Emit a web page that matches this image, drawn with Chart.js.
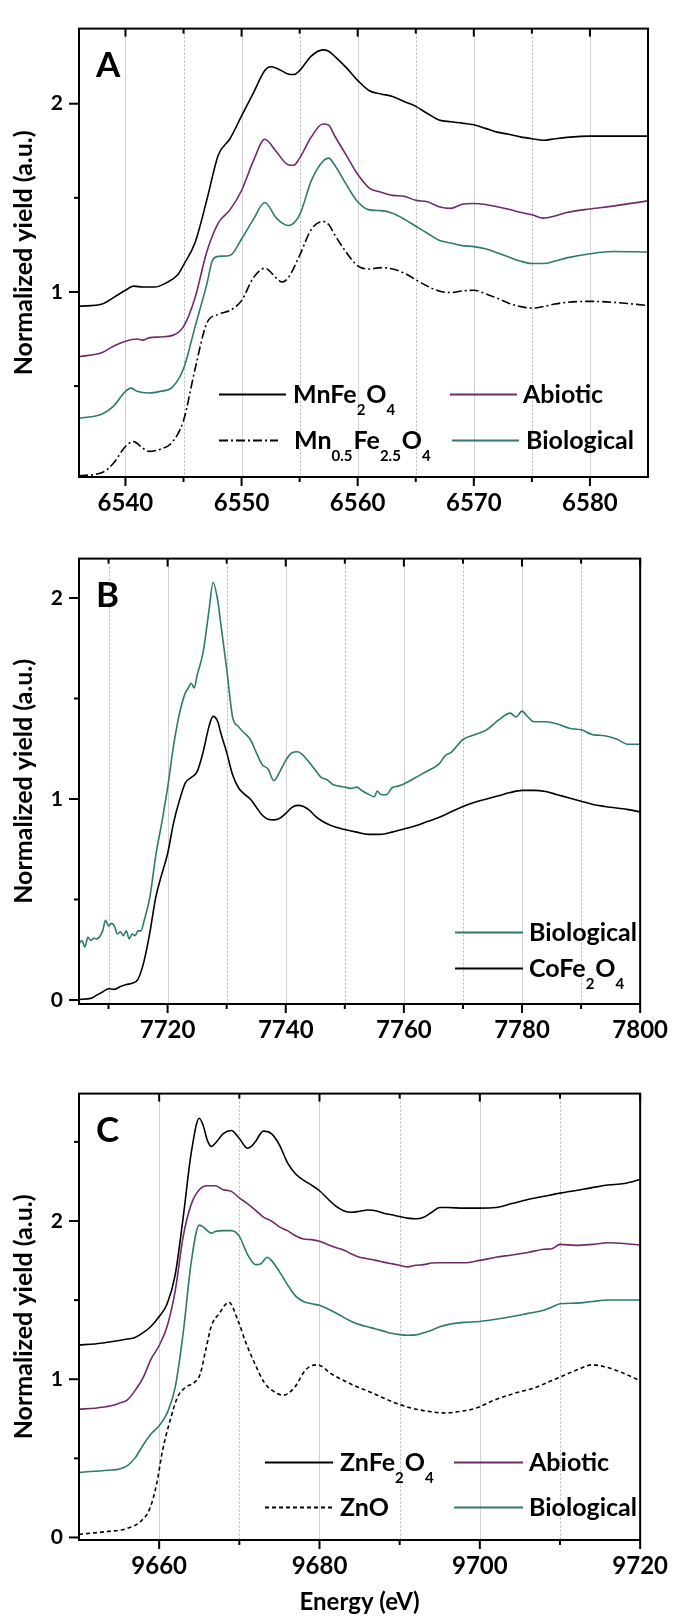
<!DOCTYPE html>
<html><head><meta charset="utf-8">
<script src="https://cdn.jsdelivr.net/npm/chart.js@4.4.0/dist/chart.umd.min.js"></script>
<style>
html,body{margin:0;padding:0;background:#fff;}
#wrap{position:relative;width:680px;height:1620px;overflow:hidden;}
canvas{position:absolute;left:0;}
</style></head><body>
<div id="wrap">
<canvas id="cA" width="680" height="530" style="top:0px"></canvas>
<canvas id="cB" width="680" height="535" style="top:530px"></canvas>
<canvas id="cC" width="680" height="555" style="top:1065px"></canvas>
</div>
<script>
// ---------------- Panel A data (Mn K-edge) ----------------
const mnFe2O4_E = [6536,6538,6539,6540,6540.7,6541.5,6542.5,6543.5,6544.5,6545,6546,6547,6548,6549,6550,6551,6552,6552.5,6553,6554,6554.5,6555,6556,6557,6557.5,6558,6559,6560,6561,6562,6563,6564,6565,6566,6567,6568,6569,6570,6571,6572,6573,6574,6575,6576,6577,6578,6580,6585];
const mnFe2O4_Y = [0.924,0.936,0.971,1.009,1.031,1.026,1.026,1.048,1.091,1.143,1.263,1.487,1.728,1.814,1.935,2.055,2.176,2.196,2.189,2.158,2.155,2.176,2.253,2.286,2.279,2.253,2.193,2.124,2.069,2.052,2.038,2.012,1.986,1.948,1.914,1.904,1.897,1.888,1.869,1.849,1.838,1.824,1.814,1.806,1.814,1.821,1.828,1.828];
const abioticA_E = [6536,6538,6539,6540,6541,6541.5,6542,6543,6544,6545,6546,6547,6548,6549,6550,6551,6552,6553,6554,6554.5,6555,6556,6557,6557.5,6558,6559,6560,6561,6562,6563,6564,6565,6566,6567,6568,6569,6570,6571,6572,6573,6574,6575,6576,6577,6578,6580,6582,6585];
const abioticA_Y = [0.656,0.678,0.713,0.738,0.750,0.744,0.756,0.761,0.768,0.816,0.971,1.212,1.367,1.436,1.539,1.694,1.811,1.745,1.676,1.673,1.711,1.823,1.892,1.886,1.831,1.728,1.625,1.552,1.530,1.513,1.508,1.487,1.479,1.453,1.444,1.466,1.470,1.465,1.453,1.439,1.423,1.410,1.392,1.404,1.422,1.441,1.456,1.484];
const bioA_E = [6536,6538,6539,6540,6540.5,6541,6542,6543,6544,6545,6546,6547,6547.5,6548,6549,6550,6551,6552,6553,6554,6555,6556,6557,6557.5,6558,6559,6560,6561,6562,6563,6564,6565,6566,6567,6568,6569,6570,6571,6572,6573,6574,6575,6576,6577,6578,6580,6582,6585];
const bioA_Y = [0.329,0.352,0.395,0.472,0.489,0.472,0.463,0.472,0.492,0.592,0.816,1.040,1.169,1.189,1.194,1.281,1.384,1.475,1.392,1.353,1.410,1.590,1.694,1.711,1.676,1.573,1.479,1.436,1.432,1.418,1.387,1.349,1.312,1.275,1.260,1.246,1.241,1.229,1.208,1.186,1.164,1.151,1.151,1.164,1.181,1.203,1.215,1.212];
const mn05_E = [6536,6538,6539,6540,6540.7,6541.5,6542,6543,6544,6545,6546,6547,6548,6549,6550,6551,6552,6553,6553.5,6554,6555,6556,6557,6557.5,6558,6559,6560,6561,6562,6563,6564,6565,6566,6567,6568,6569,6570,6571,6572,6573,6574,6575,6576,6577,6578,6580,6582,6585];
const mn05_Y = [0.024,0.041,0.093,0.179,0.205,0.170,0.153,0.165,0.200,0.317,0.592,0.833,0.881,0.902,0.954,1.074,1.126,1.074,1.053,1.074,1.194,1.332,1.375,1.358,1.306,1.212,1.139,1.122,1.129,1.122,1.100,1.065,1.031,1.005,0.997,1.005,1.009,0.991,0.967,0.940,0.923,0.914,0.923,0.936,0.945,0.950,0.945,0.928];
const ticksA_x = [6540,6550,6560,6570,6580];
const minorA_x = [6545,6555,6565,6575];
const ticksA_y = [1,2];
const minorA_y = [0.5,1.5];

// ---------------- Panel B data (Co K-edge) ----------------
const coFe2O4_E = [7705,7707,7708,7709,7710,7711,7712,7713,7714,7715,7716,7717,7718,7719,7720,7721,7722,7723,7724,7725,7726,7727,7727.7,7728.5,7729,7730,7731,7732,7733,7734,7735,7736,7737,7738,7739,7740,7741,7742,7743,7744,7745,7746,7747,7748,7749,7750,7752,7754,7756,7758,7760,7762,7764,7766,7768,7770,7772,7774,7776,7778,7780,7782,7784,7786,7788,7790,7792,7794,7796,7798,7800];
const coFe2O4_Y = [0.003,0.008,0.024,0.040,0.056,0.053,0.067,0.077,0.083,0.104,0.192,0.336,0.512,0.624,0.728,0.880,0.992,1.080,1.107,1.136,1.232,1.360,1.411,1.384,1.328,1.232,1.120,1.056,1.024,1.000,0.960,0.920,0.899,0.896,0.904,0.928,0.957,0.968,0.963,0.944,0.915,0.893,0.877,0.864,0.856,0.848,0.835,0.824,0.824,0.835,0.851,0.867,0.888,0.909,0.936,0.963,0.984,1.000,1.016,1.032,1.043,1.043,1.037,1.021,1.005,0.989,0.973,0.963,0.955,0.947,0.936];
const bioB_E = [7705,7705.5,7706,7706.5,7707,7707.5,7708,7709,7709.5,7710,7710.5,7711,7711.5,7712,7712.5,7713,7713.5,7714,7714.5,7715,7715.5,7716,7717,7718,7719,7720,7721,7722,7723,7723.5,7724,7724.5,7725,7726,7727,7727.7,7728.5,7729,7730,7731,7732,7733,7734,7735,7736,7737,7738,7739,7740,7741,7742,7743,7744,7745,7746,7747,7748,7749,7750,7751,7752,7753,7754,7755,7755.5,7756,7757,7758,7759,7760,7762,7764,7766,7767,7768,7770,7772,7774,7776,7778,7779,7780,7781,7782,7784,7786,7788,7790,7792,7794,7796,7798,7800];
const bioB_Y = [0.28,0.296,0.264,0.312,0.296,0.307,0.304,0.344,0.397,0.368,0.381,0.368,0.328,0.339,0.32,0.344,0.304,0.328,0.32,0.344,0.344,0.392,0.512,0.72,0.88,1.056,1.264,1.424,1.528,1.552,1.576,1.552,1.616,1.728,1.936,2.077,1.984,1.872,1.648,1.408,1.36,1.328,1.296,1.232,1.171,1.149,1.091,1.136,1.192,1.229,1.235,1.216,1.181,1.144,1.107,1.096,1.072,1.064,1.059,1.053,1.059,1.04,1.024,1.011,1.04,1.024,1.021,1.056,1.064,1.075,1.107,1.139,1.176,1.216,1.232,1.296,1.32,1.344,1.392,1.427,1.408,1.437,1.408,1.384,1.384,1.373,1.352,1.344,1.32,1.315,1.299,1.272,1.272];
const ticksB_x = [7720,7740,7760,7780,7800];
const minorB_x = [7710,7730,7750,7770,7790];
const ticksB_y = [0,1,2];
const minorB_y = [0.5,1.5];

// ---------------- Panel C data (Zn K-edge) ----------------
const znFe2O4_E = [9650,9652,9654,9656,9657,9658,9659,9660,9661,9662,9663,9664,9665,9665.5,9666,9666.5,9667,9668,9669,9670,9671,9671.5,9672,9673,9674,9675,9676,9677,9678,9679,9680,9681,9682,9683,9684,9685,9686,9687,9688,9689,9690,9691,9692,9693,9694,9695,9696,9698,9700,9702,9704,9706,9708,9710,9712,9714,9716,9718,9720];
const znFe2O4_Y = [1.217,1.223,1.237,1.254,1.264,1.294,1.335,1.396,1.477,1.659,2.024,2.430,2.649,2.602,2.511,2.471,2.491,2.552,2.572,2.521,2.460,2.471,2.501,2.568,2.552,2.481,2.369,2.298,2.258,2.227,2.191,2.142,2.095,2.065,2.055,2.061,2.069,2.065,2.049,2.039,2.028,2.018,2.014,2.024,2.055,2.085,2.085,2.081,2.081,2.085,2.110,2.136,2.156,2.176,2.193,2.211,2.227,2.237,2.262];
const abioticC_E = [9650,9652,9654,9655,9656,9657,9658,9659,9660,9661,9662,9663,9664,9665,9666,9667,9668,9669,9670,9671,9672,9673,9674,9675,9676,9677,9678,9679,9680,9681,9682,9683,9684,9685,9686,9687,9688,9689,9690,9691,9692,9693,9694,9695,9696,9698,9700,9702,9704,9706,9708,9709,9710,9712,9714,9716,9718,9720];
const abioticC_Y = [0.811,0.817,0.832,0.848,0.868,0.929,1.010,1.128,1.213,1.335,1.558,1.903,2.105,2.197,2.223,2.223,2.197,2.187,2.146,2.110,2.069,2.024,2.000,1.963,1.939,1.907,1.886,1.882,1.872,1.852,1.832,1.817,1.791,1.771,1.761,1.751,1.740,1.730,1.720,1.710,1.720,1.724,1.734,1.736,1.736,1.736,1.751,1.771,1.785,1.801,1.821,1.825,1.852,1.846,1.852,1.862,1.858,1.848];
const bioC_E = [9650,9652,9654,9655,9656,9657,9658,9659,9660,9661,9662,9663,9664,9665,9665.5,9666,9666.5,9667,9668,9669,9670,9671,9672,9672.7,9673.5,9674,9675,9676,9677,9678,9679,9680,9681,9682,9683,9684,9685,9686,9687,9688,9689,9690,9691,9692,9693,9694,9695,9696,9698,9700,9702,9704,9706,9708,9709,9710,9712,9714,9716,9718,9720];
const bioC_Y = [0.412,0.418,0.426,0.432,0.452,0.503,0.584,0.655,0.706,0.787,0.949,1.294,1.740,1.974,1.963,1.939,1.923,1.933,1.939,1.939,1.903,1.791,1.724,1.730,1.771,1.751,1.680,1.598,1.527,1.491,1.477,1.467,1.446,1.420,1.391,1.365,1.345,1.331,1.318,1.304,1.290,1.282,1.278,1.280,1.294,1.310,1.331,1.345,1.359,1.365,1.379,1.396,1.416,1.436,1.456,1.477,1.481,1.491,1.501,1.501,1.501];
const znO_E = [9650,9653.4,9656,9657.6,9658.8,9659.7,9660.4,9661.4,9662.3,9663.3,9664.4,9665.1,9665.8,9666.5,9667.5,9668.7,9669.8,9670.8,9672,9673.1,9674.1,9675.5,9676.9,9678.3,9679.7,9681.6,9683.9,9686.3,9688.6,9690.1,9692.4,9695.7,9697.6,9699.5,9701.8,9704.2,9707,9708.9,9710.3,9712.2,9714,9715.4,9717.3,9720];
const znO_Y = [0.020,0.037,0.057,0.098,0.179,0.341,0.544,0.746,0.888,0.949,0.980,1.030,1.183,1.335,1.416,1.487,1.375,1.233,1.091,0.980,0.929,0.899,0.949,1.061,1.091,1.030,0.970,0.919,0.868,0.838,0.807,0.787,0.797,0.817,0.868,0.909,0.949,0.990,1.020,1.061,1.091,1.081,1.051,0.990];
const ticksC_x = [9660,9680,9700,9720];
const minorC_x = [9670,9690,9710];
const ticksC_y = [0,1,2];
const minorC_y = [0.5,1.5,2.5];

// ---------------- styling ----------------
const FONT = 'Lato, "Open Sans", sans-serif';
const BLACK = '#000000';
const PURPLE = '#6f2a6b';
const TEAL = '#2e7a6c';

function pts(xs, ys) { return xs.map((x, i) => ({x: x, y: ys[i]})); }

function ds(label, xs, ys, color, dash) {
  return {
    label: label, data: pts(xs, ys), borderColor: color, backgroundColor: color,
    borderWidth: 1.6, pointRadius: 0, fill: false,
    cubicInterpolationMode: 'monotone', borderDash: dash || []
  };
}

const decoPlugin = {
  id: 'panelDeco',
  beforeDatasetsDraw(chart, args, o) {
    const {ctx, chartArea: a, scales: {x}} = chart;
    ctx.save();
    ctx.lineWidth = 1;
    ctx.strokeStyle = '#b5b5b5';
    ctx.setLineDash([2, 2]);
    o.xMinor.forEach(v => {
      const p = Math.round(x.getPixelForValue(v)) + 0.5;
      ctx.beginPath(); ctx.moveTo(p, a.top); ctx.lineTo(p, a.bottom); ctx.stroke();
    });
    ctx.setLineDash([]);
    ctx.strokeStyle = '#d2d2d2';
    o.xMajor.forEach(v => {
      const p = Math.round(x.getPixelForValue(v)) + 0.5;
      if (p > a.right - 2) return;
      ctx.beginPath(); ctx.moveTo(p, a.top); ctx.lineTo(p, a.bottom); ctx.stroke();
    });
    ctx.restore();
  },
  afterDatasetsDraw(chart, args, o) {
    const {ctx, chartArea: a, scales: {x, y}} = chart;
    ctx.save();
    ctx.strokeStyle = '#000';
    ctx.lineWidth = 2;
    ctx.strokeRect(a.left, a.top, a.right - a.left, a.bottom - a.top);
    const tick = (x1, y1, x2, y2) => { ctx.beginPath(); ctx.moveTo(x1, y1); ctx.lineTo(x2, y2); ctx.stroke(); };
    o.xMajor.forEach(v => { const p = x.getPixelForValue(v); tick(p, a.bottom, p, a.bottom + 9); tick(p, a.top, p, a.top + 8); });
    o.xMinor.forEach(v => { const p = x.getPixelForValue(v); tick(p, a.bottom, p, a.bottom + 5); tick(p, a.top, p, a.top + 5); });
    o.yMajor.forEach(v => { const p = y.getPixelForValue(v); tick(a.left - 10, p, a.left, p); });
    o.yMinor.forEach(v => { const p = y.getPixelForValue(v); tick(a.left - 5, p, a.left, p); });
    // panel letter
    ctx.fillStyle = '#000';
    ctx.font = 'bold 35px ' + FONT;
    ctx.textAlign = 'left';
    ctx.textBaseline = 'alphabetic';
    ctx.fillText(o.letter, a.left + 17, a.top + 48);
    // legend
    o.legend.forEach(e => {
      const d = chart.data.datasets[e.ds];
      ctx.save();
      ctx.strokeStyle = d.borderColor;
      ctx.lineWidth = 1.8;
      ctx.setLineDash(d.borderDash || []);
      ctx.beginPath(); ctx.moveTo(e.x1, e.y + 0.5); ctx.lineTo(e.x2, e.y + 0.5); ctx.stroke();
      ctx.restore();
      let tx = e.tx;
      const base = e.y + 9;
      e.parts.forEach(pt => {
        const sub = pt[1];
        ctx.font = 'bold ' + (sub ? 15 : 25) + 'px ' + FONT;
        ctx.fillText(pt[0], tx, sub ? base + 12 : base);
        tx += ctx.measureText(pt[0]).width + (sub ? 1 : 0);
      });
    });
    ctx.restore();
  }
};

function makePanel(id, cfg) {
  const canvas = document.getElementById(id);
  const H = canvas.height;
  new Chart(canvas, {
    type: 'line',
    data: {datasets: cfg.datasets},
    plugins: [decoPlugin],
    options: {
      responsive: false, animation: false, devicePixelRatio: 1,
      layout: {padding: {left: 0, right: 680 - cfg.right, top: cfg.top, bottom: 0}},
      plugins: {
        legend: {display: false}, tooltip: {enabled: false},
        panelDeco: {letter: cfg.letter, xMajor: cfg.xMajor, xMinor: cfg.xMinor, yMajor: cfg.yMajor, yMinor: cfg.yMinor, legend: cfg.legend}
      },
      scales: {
        x: {
          type: 'linear', min: cfg.xMin, max: cfg.xMax,
          afterBuildTicks: s => { s.ticks = cfg.xMajor.map(v => ({value: v})); },
          afterFit: s => { s.height = H - cfg.bottom; },
          grid: {display: false, drawTicks: false}, border: {display: false},
          ticks: {autoSkip: false, maxRotation: 0, minRotation: 0, padding: 12, color: '#000',
                  font: {family: FONT, size: 24, weight: 'bold'}, callback: v => String(v)},
          title: cfg.xTitle ? {display: true, text: cfg.xTitle, color: '#000',
                  font: {family: FONT, size: 24, weight: 'bold'}, padding: {top: 0, bottom: 3}} : {display: false}
        },
        y: {
          type: 'linear', min: cfg.yMin, max: cfg.yMax,
          afterBuildTicks: s => { s.ticks = cfg.yMajor.map(v => ({value: v})); },
          afterFit: s => { s.width = 79; },
          grid: {display: false, drawTicks: false}, border: {display: false},
          ticks: {padding: 16, color: '#000', font: {family: FONT, size: 21, weight: 'bold'}, callback: v => String(v)},
          title: {display: true, text: 'Normalized yield (a.u.)', color: '#000',
                  font: {family: FONT, size: 25, weight: 'bold'}, padding: {top: 9, bottom: 0}}
        }
      }
    }
  });
}

makePanel('cA', {
  letter: 'A', top: 15, bottom: 477, right: 648,
  xMin: 6536, xMax: 6585, yMin: 0.017, yMax: 2.399,
  xMajor: ticksA_x, xMinor: minorA_x, yMajor: ticksA_y, yMinor: minorA_y,
  datasets: [
    ds('MnFe2O4', mnFe2O4_E, mnFe2O4_Y, BLACK),
    ds('Abiotic', abioticA_E, abioticA_Y, PURPLE),
    ds('Biological', bioA_E, bioA_Y, TEAL),
    ds('Mn0.5Fe2.5O4', mn05_E, mn05_Y, BLACK, [9, 3, 2, 3])
  ],
  legend: [
    {ds: 0, x1: 219, x2: 286, y: 394, tx: 293, parts: [['MnFe', 0], ['2', 1], ['O', 0], ['4', 1]]},
    {ds: 1, x1: 450, x2: 517, y: 394, tx: 523, parts: [['Abiotic', 0]]},
    {ds: 3, x1: 219, x2: 278, y: 440, tx: 294, parts: [['Mn', 0], ['0.5', 1], ['Fe', 0], ['2.5', 1], ['O', 0], ['4', 1]]},
    {ds: 2, x1: 452, x2: 519, y: 440, tx: 526, parts: [['Biological', 0]]}
  ]
});

makePanel('cB', {
  letter: 'B', top: 12, bottom: 474, right: 649,
  xMin: 7705, xMax: 7800, yMin: -0.02, yMax: 2.196,
  xMajor: ticksB_x, xMinor: minorB_x, yMajor: ticksB_y, yMinor: minorB_y,
  datasets: [
    ds('CoFe2O4', coFe2O4_E, coFe2O4_Y, BLACK),
    ds('Biological', bioB_E, bioB_Y, TEAL)
  ],
  legend: [
    {ds: 1, x1: 455, x2: 523, y: 402, tx: 529, parts: [['Biological', 0]]},
    {ds: 0, x1: 455, x2: 523, y: 438, tx: 529, parts: [['CoFe', 0], ['2', 1], ['O', 0], ['4', 1]]}
  ]
});

makePanel('cC', {
  letter: 'C', top: 12, bottom: 475, right: 647,
  xMin: 9650, xMax: 9720, yMin: -0.016, yMax: 2.805,
  xMajor: ticksC_x, xMinor: minorC_x, yMajor: ticksC_y, yMinor: minorC_y,
  xTitle: 'Energy (eV)',
  datasets: [
    ds('ZnFe2O4', znFe2O4_E, znFe2O4_Y, BLACK),
    ds('Abiotic', abioticC_E, abioticC_Y, PURPLE),
    ds('Biological', bioC_E, bioC_Y, TEAL),
    ds('ZnO', znO_E, znO_Y, BLACK, [4, 3])
  ],
  legend: [
    {ds: 0, x1: 265, x2: 333, y: 397, tx: 340, parts: [['ZnFe', 0], ['2', 1], ['O', 0], ['4', 1]]},
    {ds: 1, x1: 454, x2: 523, y: 397, tx: 529, parts: [['Abiotic', 0]]},
    {ds: 3, x1: 265, x2: 333, y: 442, tx: 340, parts: [['ZnO', 0]]},
    {ds: 2, x1: 454, x2: 523, y: 442, tx: 529, parts: [['Biological', 0]]}
  ]
});
</script>
</body></html>
